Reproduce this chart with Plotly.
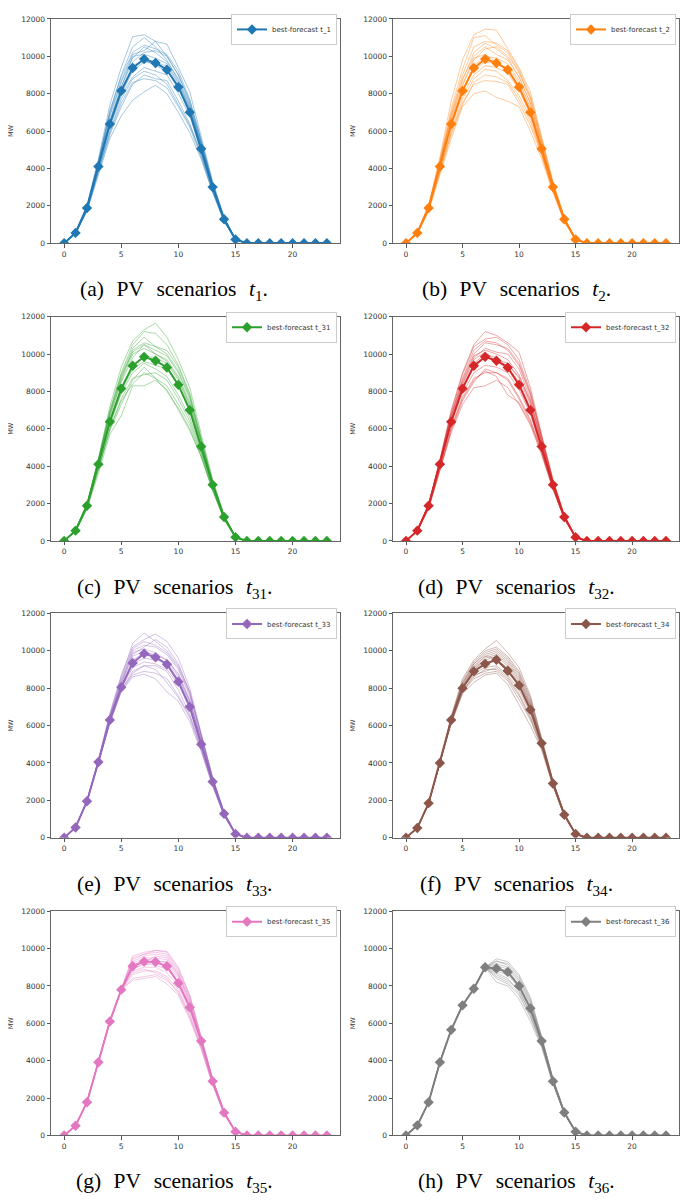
import plotly.graph_objects as go

hours = list(range(24))
x_ticks = [0, 5, 10, 15, 20]
y_ticks = [0, 2000, 4000, 6000, 8000, 10000, 12000]
y_tick_text = ["0", "2000", "4000", "6000", "8000", "10000", "12000"]
labels = ["t_1", "t_2", "t_31", "t_32", "t_33", "t_34", "t_35", "t_36"]
caption_letters = ["a", "b", "c", "d", "e", "f", "g", "h"]
caption_subs = ["1", "2", "31", "32", "33", "34", "35", "36"]
colors = ["#1f77b4", "#ff7f0e", "#2ca02c", "#d62728", "#9467bd", "#8c564b", "#e377c2", "#7f7f7f"]

best_t1 = [0, 550, 1880, 4100, 6380, 8150, 9370, 9850, 9640, 9280, 8350, 7000, 5050, 3000, 1280, 200, 0, 0, 0, 0, 0, 0, 0, 0]
best_t2 = [0, 550, 1880, 4100, 6380, 8150, 9370, 9850, 9640, 9280, 8350, 7000, 5050, 3000, 1280, 200, 0, 0, 0, 0, 0, 0, 0, 0]
best_t31 = [0, 550, 1880, 4100, 6380, 8150, 9370, 9850, 9640, 9280, 8350, 7000, 5050, 3000, 1280, 200, 0, 0, 0, 0, 0, 0, 0, 0]
best_t32 = [0, 550, 1880, 4100, 6380, 8150, 9370, 9850, 9640, 9280, 8350, 7000, 5050, 3000, 1280, 200, 0, 0, 0, 0, 0, 0, 0, 0]
best_t33 = [0, 550, 1950, 4050, 6300, 8050, 9350, 9850, 9650, 9280, 8350, 7000, 5000, 3000, 1280, 200, 0, 0, 0, 0, 0, 0, 0, 0]
best_t34 = [0, 520, 1850, 4000, 6300, 8000, 8900, 9300, 9520, 8930, 8150, 6850, 5050, 2900, 1230, 200, 0, 0, 0, 0, 0, 0, 0, 0]
best_t35 = [0, 520, 1780, 3920, 6100, 7800, 9050, 9300, 9280, 9050, 8150, 6850, 5050, 2900, 1220, 200, 0, 0, 0, 0, 0, 0, 0, 0]
best_t36 = [0, 540, 1780, 3920, 5650, 6960, 7850, 9000, 8930, 8750, 8000, 6800, 5050, 2900, 1230, 200, 0, 0, 0, 0, 0, 0, 0, 0]

scen_t1 = [
    [0, 600, 2000, 4400, 7000, 9000, 10500, 11000, 10500, 9800, 8700, 7300, 5300, 3150, 1350, 200, 0, 0, 0, 0, 0, 0, 0, 0],
    [0, 620, 2050, 4500, 7400, 9400, 11050, 11150, 10800, 10000, 9000, 7600, 5500, 3200, 1400, 220, 0, 0, 0, 0, 0, 0, 0, 0],
    [0, 500, 1700, 3700, 5600, 6800, 7650, 8100, 8450, 8000, 7000, 5900, 4500, 2700, 1150, 180, 0, 0, 0, 0, 0, 0, 0, 0],
    [0, 520, 1750, 3800, 5800, 7300, 8500, 9000, 8800, 8700, 7600, 6400, 4700, 2800, 1200, 180, 0, 0, 0, 0, 0, 0, 0, 0],
    [0, 560, 1900, 4200, 6600, 8400, 9700, 10200, 10300, 10000, 9000, 7500, 5400, 3100, 1300, 200, 0, 0, 0, 0, 0, 0, 0, 0],
    [0, 580, 1950, 4300, 6900, 8700, 10100, 10300, 10800, 10650, 9400, 8100, 5700, 3300, 1400, 220, 0, 0, 0, 0, 0, 0, 0, 0],
    [0, 540, 1850, 4000, 6200, 7900, 8900, 9400, 9200, 9000, 8000, 6800, 4900, 2900, 1250, 190, 0, 0, 0, 0, 0, 0, 0, 0],
    [0, 570, 1900, 4150, 6500, 8300, 10000, 10100, 9900, 9600, 8600, 7200, 5200, 3050, 1300, 200, 0, 0, 0, 0, 0, 0, 0, 0],
    [0, 530, 1800, 3900, 6000, 7700, 8800, 9200, 9000, 8500, 7400, 6300, 4800, 2850, 1220, 190, 0, 0, 0, 0, 0, 0, 0, 0],
    [0, 590, 1980, 4350, 7100, 8900, 10200, 10600, 10400, 10100, 9200, 7700, 5500, 3200, 1350, 210, 0, 0, 0, 0, 0, 0, 0, 0],
    [0, 550, 1880, 4100, 6400, 8200, 9500, 9800, 9500, 9200, 8400, 7100, 5100, 3000, 1280, 200, 0, 0, 0, 0, 0, 0, 0, 0],
    [0, 545, 1860, 4050, 6300, 8000, 9200, 9700, 9600, 9500, 8500, 7200, 5200, 3050, 1300, 200, 0, 0, 0, 0, 0, 0, 0, 0],
    [0, 575, 1920, 4250, 6800, 8600, 9900, 10500, 10200, 9700, 8800, 7400, 5300, 3100, 1320, 200, 0, 0, 0, 0, 0, 0, 0, 0],
    [0, 510, 1780, 3850, 5900, 7500, 8600, 8800, 8700, 8300, 7300, 6200, 4600, 2750, 1180, 180, 0, 0, 0, 0, 0, 0, 0, 0],
]
scen_t2 = [
    [0, 620, 2050, 4600, 7600, 9800, 11150, 11450, 11400, 10400, 9400, 8100, 5700, 3300, 1400, 220, 0, 0, 0, 0, 0, 0, 0, 0],
    [0, 600, 2000, 4450, 7200, 9300, 11000, 11100, 10600, 10200, 9100, 7800, 5500, 3200, 1350, 210, 0, 0, 0, 0, 0, 0, 0, 0],
    [0, 500, 1700, 3700, 5600, 7300, 8000, 8150, 7800, 7600, 7300, 6000, 4500, 2700, 1150, 180, 0, 0, 0, 0, 0, 0, 0, 0],
    [0, 520, 1750, 3800, 5900, 7500, 8500, 8700, 8650, 8500, 7500, 6300, 4700, 2800, 1200, 180, 0, 0, 0, 0, 0, 0, 0, 0],
    [0, 580, 1950, 4300, 6800, 8700, 10200, 10700, 10400, 9900, 8900, 7500, 5300, 3100, 1300, 200, 0, 0, 0, 0, 0, 0, 0, 0],
    [0, 560, 1900, 4200, 6600, 8400, 9800, 10400, 10500, 10000, 9200, 7700, 5400, 3150, 1320, 200, 0, 0, 0, 0, 0, 0, 0, 0],
    [0, 540, 1850, 4000, 6200, 7900, 9000, 9500, 9400, 9100, 8200, 6900, 4900, 2900, 1250, 190, 0, 0, 0, 0, 0, 0, 0, 0],
    [0, 570, 1930, 4250, 6700, 8500, 9900, 10100, 9700, 9300, 8400, 7100, 5100, 3000, 1280, 200, 0, 0, 0, 0, 0, 0, 0, 0],
    [0, 530, 1800, 3900, 6000, 7700, 8800, 9300, 9200, 8700, 7900, 6700, 4800, 2850, 1220, 190, 0, 0, 0, 0, 0, 0, 0, 0],
    [0, 590, 1980, 4400, 7000, 9000, 10500, 10800, 10700, 10300, 9300, 7900, 5600, 3250, 1380, 210, 0, 0, 0, 0, 0, 0, 0, 0],
    [0, 550, 1880, 4100, 6400, 8200, 9300, 9700, 9600, 9400, 8600, 7200, 5100, 3000, 1280, 200, 0, 0, 0, 0, 0, 0, 0, 0],
    [0, 545, 1860, 4050, 6300, 8100, 9500, 10000, 9900, 9600, 8700, 7300, 5200, 3050, 1300, 200, 0, 0, 0, 0, 0, 0, 0, 0],
    [0, 510, 1780, 3850, 5800, 7400, 8600, 9000, 8900, 8600, 7700, 6500, 4750, 2800, 1200, 185, 0, 0, 0, 0, 0, 0, 0, 0],
    [0, 575, 1920, 4250, 6900, 8800, 10000, 10500, 10100, 9800, 8900, 7500, 5300, 3100, 1320, 200, 0, 0, 0, 0, 0, 0, 0, 0],
]
scen_t31 = [
    [0, 600, 2000, 4400, 7200, 9300, 10700, 11300, 11650, 10900, 9700, 8200, 5700, 3300, 1400, 220, 0, 0, 0, 0, 0, 0, 0, 0],
    [0, 590, 1980, 4350, 7000, 9000, 10500, 11200, 11100, 10500, 9400, 7900, 5500, 3200, 1350, 210, 0, 0, 0, 0, 0, 0, 0, 0],
    [0, 500, 1700, 3600, 5700, 6700, 8300, 8300, 8600, 8100, 7000, 5900, 4500, 2700, 1150, 180, 0, 0, 0, 0, 0, 0, 0, 0],
    [0, 520, 1750, 3800, 6000, 7500, 8400, 9000, 8700, 8300, 7300, 6200, 4600, 2750, 1180, 180, 0, 0, 0, 0, 0, 0, 0, 0],
    [0, 580, 1950, 4300, 6800, 8700, 10200, 10600, 10400, 10200, 9300, 7800, 5400, 3150, 1320, 200, 0, 0, 0, 0, 0, 0, 0, 0],
    [0, 560, 1900, 4200, 6600, 8500, 9800, 10500, 10200, 9900, 9000, 7600, 5300, 3100, 1300, 200, 0, 0, 0, 0, 0, 0, 0, 0],
    [0, 540, 1850, 4000, 6200, 7900, 9000, 9500, 9200, 8800, 7800, 6600, 4800, 2850, 1230, 190, 0, 0, 0, 0, 0, 0, 0, 0],
    [0, 570, 1930, 4250, 6700, 8600, 10000, 10300, 10000, 9600, 8700, 7300, 5200, 3050, 1300, 200, 0, 0, 0, 0, 0, 0, 0, 0],
    [0, 530, 1800, 3900, 6000, 7600, 8700, 8900, 9000, 8600, 7600, 6400, 4700, 2800, 1200, 185, 0, 0, 0, 0, 0, 0, 0, 0],
    [0, 585, 1960, 4300, 6900, 8900, 10300, 10900, 10400, 10000, 9100, 7700, 5400, 3150, 1330, 205, 0, 0, 0, 0, 0, 0, 0, 0],
    [0, 550, 1880, 4100, 6400, 8200, 9400, 9900, 9800, 9500, 8600, 7200, 5100, 3000, 1280, 200, 0, 0, 0, 0, 0, 0, 0, 0],
    [0, 545, 1860, 4050, 6300, 8000, 9200, 9600, 9400, 9200, 8300, 7000, 5000, 2950, 1270, 195, 0, 0, 0, 0, 0, 0, 0, 0],
    [0, 510, 1780, 3850, 5900, 7300, 8600, 9300, 8700, 8000, 7100, 6000, 4500, 2700, 1150, 180, 0, 0, 0, 0, 0, 0, 0, 0],
    [0, 575, 1920, 4250, 6850, 8800, 10100, 10500, 10000, 9700, 8800, 7400, 5300, 3100, 1300, 200, 0, 0, 0, 0, 0, 0, 0, 0],
]
scen_t32 = [
    [0, 590, 1980, 4350, 7000, 9000, 10500, 11200, 11000, 10600, 10100, 8200, 5700, 3300, 1400, 220, 0, 0, 0, 0, 0, 0, 0, 0],
    [0, 580, 1960, 4300, 6900, 8900, 10400, 10800, 10900, 10500, 9700, 8000, 5600, 3250, 1380, 210, 0, 0, 0, 0, 0, 0, 0, 0],
    [0, 510, 1720, 3700, 5800, 7300, 8200, 8300, 8600, 8200, 7300, 6200, 4600, 2750, 1180, 180, 0, 0, 0, 0, 0, 0, 0, 0],
    [0, 520, 1760, 3800, 6000, 7600, 8600, 9100, 8800, 7800, 7400, 6300, 4700, 2800, 1200, 185, 0, 0, 0, 0, 0, 0, 0, 0],
    [0, 570, 1940, 4250, 6700, 8600, 10000, 10600, 10500, 10300, 9500, 7900, 5500, 3200, 1350, 205, 0, 0, 0, 0, 0, 0, 0, 0],
    [0, 560, 1900, 4200, 6600, 8400, 9800, 10300, 10100, 10000, 9200, 7600, 5400, 3150, 1320, 200, 0, 0, 0, 0, 0, 0, 0, 0],
    [0, 540, 1850, 4000, 6300, 7900, 9000, 9400, 9300, 9000, 8100, 6800, 4900, 2900, 1250, 190, 0, 0, 0, 0, 0, 0, 0, 0],
    [0, 565, 1920, 4200, 6700, 8500, 9900, 10200, 10000, 9700, 8900, 7400, 5300, 3100, 1300, 200, 0, 0, 0, 0, 0, 0, 0, 0],
    [0, 530, 1800, 3900, 6100, 7700, 8700, 9000, 9000, 8700, 7700, 6500, 4800, 2850, 1220, 190, 0, 0, 0, 0, 0, 0, 0, 0],
    [0, 575, 1950, 4280, 6800, 8700, 10200, 10700, 10600, 10200, 9400, 7800, 5500, 3200, 1340, 205, 0, 0, 0, 0, 0, 0, 0, 0],
    [0, 550, 1880, 4100, 6400, 8200, 9300, 9800, 9700, 9500, 8700, 7300, 5200, 3050, 1290, 200, 0, 0, 0, 0, 0, 0, 0, 0],
    [0, 545, 1860, 4050, 6350, 8100, 9500, 10000, 9800, 9300, 8500, 7100, 5100, 3000, 1280, 200, 0, 0, 0, 0, 0, 0, 0, 0],
    [0, 515, 1790, 3850, 5900, 7500, 8500, 9200, 9000, 8600, 7600, 6400, 4750, 2800, 1200, 185, 0, 0, 0, 0, 0, 0, 0, 0],
    [0, 555, 1890, 4150, 6500, 8300, 9700, 10100, 9600, 9400, 8800, 7500, 5300, 3100, 1300, 200, 0, 0, 0, 0, 0, 0, 0, 0],
]
scen_t33 = [
    [0, 560, 1980, 4150, 6600, 8600, 10400, 10950, 10500, 10000, 9200, 7800, 5500, 3200, 1350, 210, 0, 0, 0, 0, 0, 0, 0, 0],
    [0, 565, 1990, 4200, 6650, 8700, 10200, 10600, 10900, 10500, 9600, 8000, 5600, 3250, 1380, 215, 0, 0, 0, 0, 0, 0, 0, 0],
    [0, 540, 1900, 3950, 6100, 7800, 8600, 8750, 8500, 7800, 7300, 6200, 4600, 2750, 1180, 180, 0, 0, 0, 0, 0, 0, 0, 0],
    [0, 545, 1920, 4000, 6200, 7900, 8800, 9200, 9000, 8300, 7500, 6400, 4700, 2800, 1200, 185, 0, 0, 0, 0, 0, 0, 0, 0],
    [0, 555, 1960, 4100, 6500, 8400, 10000, 10300, 10200, 9800, 9000, 7600, 5400, 3150, 1330, 205, 0, 0, 0, 0, 0, 0, 0, 0],
    [0, 552, 1955, 4080, 6400, 8250, 9800, 10200, 10600, 10200, 9300, 7800, 5400, 3150, 1330, 205, 0, 0, 0, 0, 0, 0, 0, 0],
    [0, 548, 1940, 4030, 6250, 8000, 9100, 9400, 9300, 9000, 8200, 6900, 4950, 2950, 1260, 195, 0, 0, 0, 0, 0, 0, 0, 0],
    [0, 556, 1965, 4100, 6450, 8300, 9900, 10100, 9900, 9500, 8700, 7300, 5200, 3050, 1300, 200, 0, 0, 0, 0, 0, 0, 0, 0],
    [0, 544, 1930, 4000, 6200, 7900, 8900, 9200, 9200, 8900, 7900, 6600, 4800, 2850, 1220, 190, 0, 0, 0, 0, 0, 0, 0, 0],
    [0, 558, 1970, 4120, 6500, 8500, 10100, 10500, 10300, 9900, 9100, 7700, 5500, 3200, 1340, 205, 0, 0, 0, 0, 0, 0, 0, 0],
    [0, 550, 1950, 4050, 6300, 8100, 9300, 9600, 9500, 9400, 8600, 7300, 5200, 3050, 1290, 200, 0, 0, 0, 0, 0, 0, 0, 0],
    [0, 549, 1945, 4040, 6280, 8050, 9500, 9900, 9800, 9500, 8800, 7400, 5300, 3100, 1300, 200, 0, 0, 0, 0, 0, 0, 0, 0],
    [0, 542, 1925, 3980, 6150, 7850, 8700, 8900, 8800, 8500, 7600, 6500, 4750, 2800, 1200, 185, 0, 0, 0, 0, 0, 0, 0, 0],
    [0, 553, 1958, 4090, 6400, 8200, 9700, 10000, 9700, 9200, 8500, 7200, 5200, 3050, 1290, 200, 0, 0, 0, 0, 0, 0, 0, 0],
]
scen_t34 = [
    [0, 520, 1850, 4000, 6500, 8500, 9500, 10100, 10550, 9900, 9100, 7600, 5300, 3050, 1300, 210, 0, 0, 0, 0, 0, 0, 0, 0],
    [0, 520, 1850, 4000, 6450, 8400, 9400, 10000, 10200, 9700, 8900, 7500, 5300, 3050, 1300, 205, 0, 0, 0, 0, 0, 0, 0, 0],
    [0, 520, 1850, 4000, 6100, 7700, 8300, 8700, 8800, 8200, 7100, 6000, 4700, 2750, 1170, 185, 0, 0, 0, 0, 0, 0, 0, 0],
    [0, 520, 1850, 4000, 6150, 7800, 8500, 8800, 8900, 8400, 7400, 6300, 4800, 2800, 1190, 190, 0, 0, 0, 0, 0, 0, 0, 0],
    [0, 520, 1850, 4000, 6400, 8300, 9300, 9800, 10000, 9500, 8700, 7300, 5200, 3000, 1280, 200, 0, 0, 0, 0, 0, 0, 0, 0],
    [0, 520, 1850, 4000, 6350, 8200, 9200, 9700, 9900, 9400, 8600, 7200, 5150, 2980, 1270, 200, 0, 0, 0, 0, 0, 0, 0, 0],
    [0, 520, 1850, 4000, 6250, 7950, 8800, 9100, 9200, 8700, 7900, 6700, 4950, 2870, 1220, 195, 0, 0, 0, 0, 0, 0, 0, 0],
    [0, 520, 1850, 4000, 6350, 8150, 9100, 9500, 9700, 9200, 8400, 7100, 5100, 2950, 1250, 200, 0, 0, 0, 0, 0, 0, 0, 0],
    [0, 520, 1850, 4000, 6200, 7850, 8600, 9000, 9000, 8500, 7600, 6400, 4850, 2830, 1200, 190, 0, 0, 0, 0, 0, 0, 0, 0],
    [0, 520, 1850, 4000, 6400, 8250, 9300, 9900, 10100, 9600, 8800, 7400, 5200, 3000, 1280, 205, 0, 0, 0, 0, 0, 0, 0, 0],
    [0, 520, 1850, 4000, 6300, 8050, 9000, 9400, 9500, 9100, 8300, 7000, 5050, 2920, 1240, 200, 0, 0, 0, 0, 0, 0, 0, 0],
    [0, 520, 1850, 4000, 6280, 8000, 8950, 9600, 9800, 9300, 8500, 7100, 5100, 2950, 1250, 200, 0, 0, 0, 0, 0, 0, 0, 0],
    [0, 520, 1850, 4000, 6180, 7800, 8700, 8900, 9100, 8600, 7700, 6500, 4900, 2850, 1210, 190, 0, 0, 0, 0, 0, 0, 0, 0],
    [0, 520, 1850, 4000, 6320, 8100, 9100, 9700, 9600, 9000, 8200, 7000, 5050, 2920, 1240, 200, 0, 0, 0, 0, 0, 0, 0, 0],
]
scen_t35 = [
    [0, 520, 1780, 3920, 6100, 7800, 9600, 9800, 9900, 9850, 9000, 7500, 5300, 3050, 1280, 210, 0, 0, 0, 0, 0, 0, 0, 0],
    [0, 520, 1780, 3920, 6100, 7800, 9500, 9700, 9800, 9700, 8800, 7400, 5250, 3000, 1270, 205, 0, 0, 0, 0, 0, 0, 0, 0],
    [0, 520, 1780, 3920, 6100, 7800, 8300, 8400, 8500, 8100, 7500, 6200, 4600, 2700, 1150, 185, 0, 0, 0, 0, 0, 0, 0, 0],
    [0, 520, 1780, 3920, 6100, 7800, 8400, 8500, 8600, 8300, 7700, 6400, 4700, 2750, 1170, 190, 0, 0, 0, 0, 0, 0, 0, 0],
    [0, 520, 1780, 3920, 6100, 7800, 9300, 9600, 9700, 9600, 8700, 7300, 5200, 3000, 1260, 200, 0, 0, 0, 0, 0, 0, 0, 0],
    [0, 520, 1780, 3920, 6100, 7800, 9200, 9500, 9500, 9400, 8600, 7200, 5150, 2980, 1250, 200, 0, 0, 0, 0, 0, 0, 0, 0],
    [0, 520, 1780, 3920, 6100, 7800, 8800, 9000, 9000, 8700, 8000, 6700, 4900, 2850, 1200, 195, 0, 0, 0, 0, 0, 0, 0, 0],
    [0, 520, 1780, 3920, 6100, 7800, 9100, 9400, 9400, 9200, 8400, 7000, 5100, 2950, 1240, 200, 0, 0, 0, 0, 0, 0, 0, 0],
    [0, 520, 1780, 3920, 6100, 7800, 8600, 8800, 8800, 8500, 7800, 6500, 4800, 2800, 1190, 190, 0, 0, 0, 0, 0, 0, 0, 0],
    [0, 520, 1780, 3920, 6100, 7800, 9400, 9700, 9900, 9800, 8900, 7500, 5300, 3050, 1280, 205, 0, 0, 0, 0, 0, 0, 0, 0],
    [0, 520, 1780, 3920, 6100, 7800, 8900, 9200, 9100, 8900, 8200, 6900, 5000, 2900, 1220, 200, 0, 0, 0, 0, 0, 0, 0, 0],
    [0, 520, 1780, 3920, 6100, 7800, 9000, 9100, 9300, 9300, 8500, 7100, 5100, 2950, 1240, 200, 0, 0, 0, 0, 0, 0, 0, 0],
    [0, 520, 1780, 3920, 6100, 7800, 8700, 8900, 8700, 8400, 7600, 6300, 4700, 2750, 1170, 190, 0, 0, 0, 0, 0, 0, 0, 0],
    [0, 520, 1780, 3920, 6100, 7800, 9000, 9300, 9600, 9500, 8600, 7200, 5150, 2980, 1250, 200, 0, 0, 0, 0, 0, 0, 0, 0],
]
scen_t36 = [
    [0, 540, 1780, 3920, 5650, 6960, 7850, 9000, 9450, 9300, 8600, 7400, 5300, 3050, 1280, 210, 0, 0, 0, 0, 0, 0, 0, 0],
    [0, 540, 1780, 3920, 5650, 6960, 7850, 9000, 9300, 9200, 8500, 7300, 5250, 3000, 1270, 205, 0, 0, 0, 0, 0, 0, 0, 0],
    [0, 540, 1780, 3920, 5650, 6960, 7850, 9000, 8200, 8000, 7300, 6100, 4700, 2750, 1170, 185, 0, 0, 0, 0, 0, 0, 0, 0],
    [0, 540, 1780, 3920, 5650, 6960, 7850, 9000, 8400, 8100, 7500, 6300, 4800, 2800, 1190, 190, 0, 0, 0, 0, 0, 0, 0, 0],
    [0, 540, 1780, 3920, 5650, 6960, 7850, 9000, 9200, 9000, 8300, 7100, 5200, 3000, 1260, 200, 0, 0, 0, 0, 0, 0, 0, 0],
    [0, 540, 1780, 3920, 5650, 6960, 7850, 9000, 9100, 8900, 8200, 7000, 5150, 2980, 1250, 200, 0, 0, 0, 0, 0, 0, 0, 0],
    [0, 540, 1780, 3920, 5650, 6960, 7850, 9000, 8700, 8400, 7700, 6600, 4950, 2870, 1220, 195, 0, 0, 0, 0, 0, 0, 0, 0],
    [0, 540, 1780, 3920, 5650, 6960, 7850, 9000, 8900, 8700, 8000, 6900, 5100, 2950, 1240, 200, 0, 0, 0, 0, 0, 0, 0, 0],
    [0, 540, 1780, 3920, 5650, 6960, 7850, 9000, 8500, 8200, 7600, 6400, 4850, 2830, 1200, 190, 0, 0, 0, 0, 0, 0, 0, 0],
    [0, 540, 1780, 3920, 5650, 6960, 7850, 9000, 9350, 9100, 8400, 7200, 5250, 3020, 1270, 205, 0, 0, 0, 0, 0, 0, 0, 0],
    [0, 540, 1780, 3920, 5650, 6960, 7850, 9000, 8800, 8600, 7900, 6700, 5000, 2900, 1230, 200, 0, 0, 0, 0, 0, 0, 0, 0],
    [0, 540, 1780, 3920, 5650, 6960, 7850, 9000, 8600, 8300, 7800, 6500, 4900, 2850, 1210, 195, 0, 0, 0, 0, 0, 0, 0, 0],
]

best_all = [best_t1, best_t2, best_t31, best_t32, best_t33, best_t34, best_t35, best_t36]
scen_all = [scen_t1, scen_t2, scen_t31, scen_t32, scen_t33, scen_t34, scen_t35, scen_t36]

W, H = 680, 1201
col_x = [(51, 340), (393, 679)]
row_y = [(15, 241), (315, 541), (614, 840), (914, 1140)]
cap_x = [174, 516]
cap_y = [289, 589, 888, 1187]


def hexa(c, a):
    c = c.lstrip("#")
    return "rgba(%d,%d,%d,%.2f)" % (int(c[0:2], 16), int(c[2:4], 16), int(c[4:6], 16), a)


fig = go.Figure()
layout = dict(
    width=W, height=H, margin=dict(l=0, r=0, t=0, b=0),
    paper_bgcolor="white", plot_bgcolor="white", showlegend=True,
    annotations=[],
)
tick_font = dict(family="DejaVu Sans", size=7.5, color="#333")
gap = "\u2002\u200a"

for i in range(8):
    r, c = divmod(i, 2)
    n = "" if i == 0 else str(i + 1)
    xa, ya = "x" + n, "y" + n
    lg = "legend" + n
    x0, x1 = col_x[c]
    y0, y1 = row_y[r]
    layout["xaxis" + n] = dict(
        domain=[x0 / W, x1 / W], anchor=ya, range=[-1.15, 24.15],
        tickvals=x_ticks, ticks="outside", ticklen=3.5, tickcolor="#555",
        showline=True, mirror=True, linecolor="#666", linewidth=1,
        showgrid=False, zeroline=False, tickfont=tick_font,
    )
    layout["yaxis" + n] = dict(
        domain=[1 - y1 / H, 1 - y0 / H], anchor=xa, range=[0, 12000],
        tickvals=y_ticks, ticktext=y_tick_text, ticks="outside", ticklen=3.5, tickcolor="#555",
        showline=True, mirror=True, linecolor="#666", linewidth=1,
        showgrid=False, zeroline=False, tickfont=tick_font,
        title=dict(text="MW", font=dict(family="DejaVu Sans", size=6.5, color="#333"), standoff=6),
    )
    layout[lg] = dict(
        x=(x1 - 3) / W, y=1 - (y0 - 5) / H, xanchor="right", yanchor="top",
        bgcolor="white", bordercolor="#ccc", borderwidth=1,
        font=dict(family="DejaVu Sans", size=7, color="#333"),
        itemwidth=30, tracegroupgap=0,
    )
    col = colors[i]
    for s in scen_all[i]:
        fig.add_trace(go.Scatter(
            x=hours, y=s, xaxis=xa, yaxis=ya, mode="lines",
            line=dict(color=hexa(col, 0.45), width=0.9),
            showlegend=False, hoverinfo="skip",
        ))
    fig.add_trace(go.Scatter(
        x=hours, y=best_all[i], xaxis=xa, yaxis=ya, mode="lines+markers",
        line=dict(color=col, width=2),
        marker=dict(symbol="diamond", size=8, color=col),
        name="best-forecast " + labels[i], legend=lg,
    ))
    layout["annotations"].append(dict(
        x=cap_x[c] / W, y=1 - cap_y[r] / H, xref="paper", yref="paper",
        xanchor="center", yanchor="middle", showarrow=False,
        text="(" + caption_letters[i] + ")" + gap + "PV" + gap + "scenarios" + gap
             + "<i>t</i><sub>" + caption_subs[i] + "</sub>.",
        font=dict(family="Liberation Serif", size=21.5, color="black"),
    ))

fig.update_layout(**layout)
fig.write_html(
    "out.html",
    config={"displayModeBar": False},
    post_script="document.body.style.margin='0';document.body.style.overflow='hidden';",
)
